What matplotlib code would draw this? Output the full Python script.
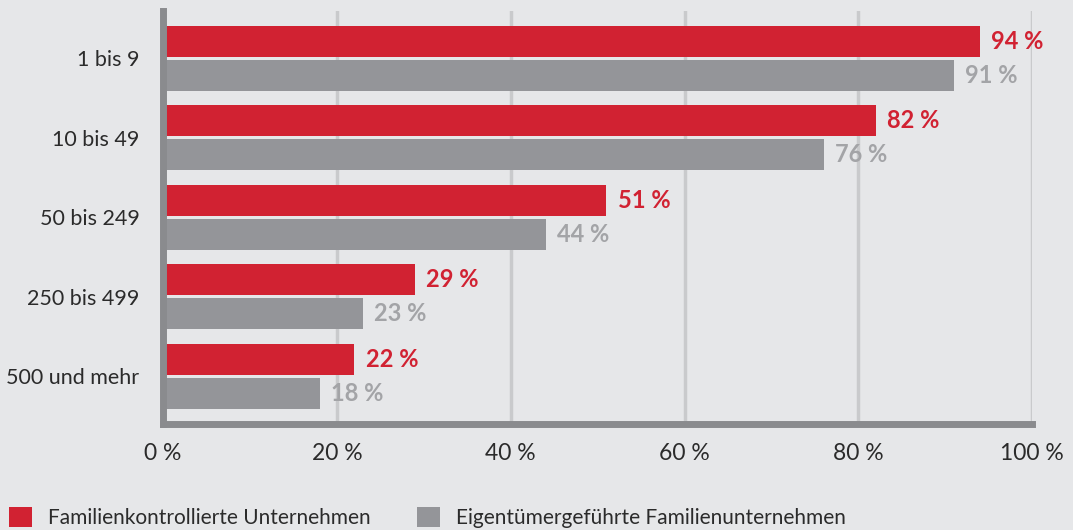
import matplotlib
matplotlib.use('Agg')
import matplotlib.pyplot as plt
import numpy as np
from matplotlib.patches import Patch

plt.rcParams['font.family'] = ['Lato', 'DejaVu Sans']

categories = ['1 bis 9', '10 bis 49', '50 bis 249', '250 bis 499', '500 und mehr']
familienkontrolliert = [94, 82, 51, 29, 22]
eigentuemergefuehrt = [91, 76, 44, 23, 18]
series_names = ['Familienkontrollierte Unternehmen', 'Eigentümergeführte Familienunternehmen']
xticks = [0, 20, 40, 60, 80, 100]

bg = '#e6e7e9'
red = '#d12232'
grey = '#949599'
grey_label = '#a3a4a7'
text_col = '#2b2b2b'

fig = plt.figure(figsize=(10.73, 5.30), dpi=100, facecolor=bg)
ax = fig.add_axes([0.152, 0.200, 0.810, 0.780], facecolor=bg)

y = np.arange(len(categories))
h = 0.39
off = 0.214
ax.barh(y - off, familienkontrolliert, height=h, color=red, zorder=3)
ax.barh(y + off, eigentuemergefuehrt, height=h, color=grey, zorder=3)

for yi, v in zip(y, familienkontrolliert):
    ax.text(v + 1.3, yi - off, f'{v} %', color=red, fontsize=17, fontweight='bold',
            va='center', ha='left', zorder=4)
for yi, v in zip(y, eigentuemergefuehrt):
    ax.text(v + 1.3, yi + off, f'{v} %', color=grey_label, fontsize=17, fontweight='bold',
            va='center', ha='left', zorder=4)

ax.set_xlim(0, 100)
ax.set_ylim(len(categories) - 0.4, -0.6)
ax.set_yticks(y)
ax.set_yticklabels(categories)
ax.set_xticks(xticks)
ax.set_xticklabels([f'{t} %' for t in xticks])
ax.tick_params(axis='both', length=0, colors=text_col)
ax.tick_params(axis='y', pad=17, labelsize=15.5)
ax.tick_params(axis='x', pad=14, labelsize=16.5)

ax.xaxis.grid(True, color='#c9cacc', linewidth=2.5, zorder=0)
ax.set_axisbelow(True)
for s in ['top', 'right']:
    ax.spines[s].set_visible(False)
for s in ['left', 'bottom']:
    ax.spines[s].set_color('#8a8b8e')
    ax.spines[s].set_linewidth(5)
    ax.spines[s].set_zorder(5)

handles = [Patch(facecolor=red, edgecolor='none'), Patch(facecolor=grey, edgecolor='none')]
fig.legend(handles, series_names, loc='center left', bbox_to_anchor=(9 / 1073, 0.024),
           ncol=2, frameon=False, fontsize=15, handlelength=1.1, handleheight=1.1,
           columnspacing=2.25, handletextpad=0.75, labelcolor=text_col,
           borderpad=0, borderaxespad=0)

fig.savefig('out.png', dpi=100, facecolor=bg)
